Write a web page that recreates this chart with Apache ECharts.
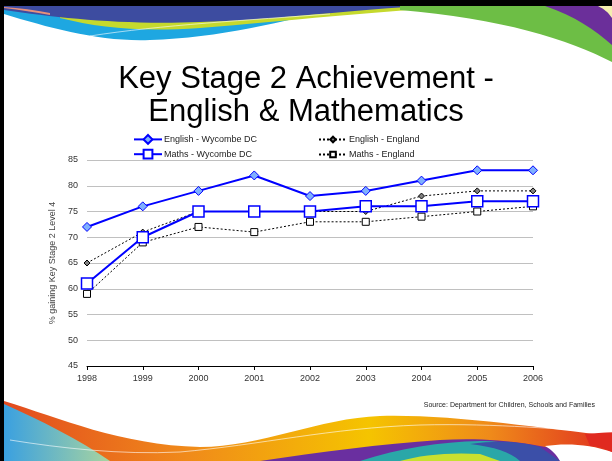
<!DOCTYPE html>
<html>
<head>
<meta charset="utf-8">
<script src="https://cdn.jsdelivr.net/npm/echarts@6/dist/echarts.min.js"></script>
<style>
html,body{margin:0;padding:0;background:#fff;}
#chart{width:612px;height:461px;}
</style>
</head>
<body>
<div id="chart"></div>
<script>
var years = ['1998','1999','2000','2001','2002','2003','2004','2005','2006'];
var englishWycombe = [72, 76, 79, 82, 78, 79, 81, 83, 83];
var mathsWycombe = [61, 70, 75, 75, 75, 76, 76, 77, 77];
var englishEngland = [65, 71, 75, 75, 75, 75, 78, 79, 79];
var mathsEngland = [59, 69, 72, 71, 73, 73, 74, 75, 76];
var seriesNames = ['English - Wycombe DC', 'Maths - Wycombe DC', 'English - England', 'Maths - England'];

var FONT = '"Liberation Sans", Arial, sans-serif';
var chart = echarts.init(document.getElementById('chart'), null, {renderer: 'canvas'});

var shapeCount = 0;
function pathEl(d, style, z) {
  var name = 'swoosh' + (shapeCount++);
  echarts.graphic.registerShape(name, echarts.graphic.extendPath(d, {}));
  return {type: name, z: z || 1, silent: true, style: style};
}

var decor = [
  // top swoosh
  pathEl('M4,6 L4,14 C50,28 100,42 150,40 C220,38 280,22 350,6 Z', {fill:'#1ea7e1'}),
  pathEl('M60,6 L60,18 C100,28 140,32 200,28 C280,22 380,10 480,6 Z', {fill:'#c5d92d'}),
  pathEl('M4,6 L4,10 C60,18 120,25 200,22 C270,20 330,12 420,6 Z', {fill:'#3d4ca0'}),
  pathEl('M4,8 C20,10 35,12 50,15 L50,13 C35,10 20,8 4,7 Z', {fill:'#e8907a'}),
  pathEl('M400,6 L612,6 L612,62 C570,40 500,18 400,10 Z', {fill:'#6dbe45'}),
  pathEl('M545,6 L612,6 L612,45 C595,30 575,16 545,6 Z', {fill:'#6b2f9a'}),
  pathEl('M598,6 L612,6 L612,18 C608,12 604,9 598,6 Z', {fill:'#f4eeb0'}),
  pathEl('M90,36 C160,25 250,20 330,14', {fill:null, stroke:'rgba(255,255,255,0.6)', lineWidth:1}, 2),
  // bottom swoosh
  pathEl('M4,401 C60,418 120,445 200,447 C260,447 320,418 380,416 C450,414 540,428 612,436 L612,461 L4,461 Z',
    {fill:new echarts.graphic.LinearGradient(0,0,1,0,[
      {offset:0,color:'#e24a1f'},{offset:0.3,color:'#f08a1a'},{offset:0.6,color:'#f5c400'},
      {offset:0.8,color:'#ef8a1a'},{offset:1,color:'#e0301f'}])}),
  pathEl('M4,404 C40,420 80,440 110,461 L4,461 Z',
    {fill:new echarts.graphic.LinearGradient(0,0,1,0,[{offset:0,color:'#3aa0e0'},{offset:1,color:'#a8d4a0'}])}),
  pathEl('M260,461 C320,452 380,444 440,440 C490,437 540,442 600,461 Z', {fill:'#6a2fa0'}),
  pathEl('M360,461 C400,448 440,442 480,441 C510,441 530,448 545,461 Z', {fill:'#2aa7a8'}),
  pathEl('M470,444 C500,440 520,442 540,447 L560,461 L520,461 C510,452 495,447 470,444 Z', {fill:'#3b4fa8'}),
  pathEl('M400,461 C420,455 450,452 480,454 L500,461 Z', {fill:'#c8e030'}),
  pathEl('M545,446 C565,443 590,444 612,452 L612,461 L560,461 C556,454 552,450 545,446 Z', {fill:'#ffffff'}),
  pathEl('M585,434 L612,432 L612,452 C605,448 598,446 590,446 Z', {fill:'#e02a20'}),
  pathEl('M10,440 C60,448 120,455 180,452 C260,445 330,428 420,425 C500,423 560,430 612,432', {fill:null, stroke:'rgba(255,255,255,0.6)', lineWidth:1}, 2),
  // frame
  {type:'rect', z:5, shape:{x:0,y:0,width:612,height:6}, style:{fill:'#000'}},
  {type:'rect', z:5, shape:{x:0,y:0,width:4,height:461}, style:{fill:'#000'}},
  // source
  {type:'text', z:5, right:17, top:402, style:{text:'Source: Department for Children, Schools and Families', font:'7px ' + FONT, fill:'#222'}}
];

chart.setOption({
  animation: false,
  backgroundColor: '#ffffff',
  title: {
    text: 'Key Stage 2 Achievement -\nEnglish & Mathematics',
    left: 'center',
    top: 58,
    textStyle: {fontFamily: FONT, fontSize: 31, fontWeight: 'normal', color: '#000', lineHeight: 33}
  },
  legend: [
    {
      data: [seriesNames[0], seriesNames[1]],
      orient: 'vertical', left: 133, top: 134,
      itemWidth: 28, itemHeight: 11, itemGap: 4, padding: 0,
      textStyle: {fontFamily: FONT, fontSize: 9, color: '#222', padding: [0,0,0,-3]}
    },
    {
      data: [seriesNames[2], seriesNames[3]],
      orient: 'vertical', left: 318, top: 135,
      itemWidth: 28, itemHeight: 7, itemGap: 6, padding: 0,
      textStyle: {fontFamily: FONT, fontSize: 9, color: '#222', padding: [0,0,0,-3]}
    }
  ],
  grid: {left: 87, right: 79, top: 160, bottom: 95},
  xAxis: {
    type: 'category', data: years, boundaryGap: false,
    axisLine: {lineStyle: {color: '#000', width: 1}},
    axisTick: {show: true, length: 4, lineStyle: {color: '#000'}},
    axisLabel: {fontFamily: FONT, fontSize: 9, color: '#333', margin: 8}
  },
  yAxis: {
    type: 'value', min: 45, max: 85, interval: 5,
    name: '% gaining Key Stage 2 Level 4', nameLocation: 'middle', nameGap: 26,
    nameTextStyle: {fontFamily: FONT, fontSize: 9, color: '#444'},
    axisLine: {show: false}, axisTick: {show: false},
    axisLabel: {fontFamily: FONT, fontSize: 9, color: '#333', margin: 9},
    splitLine: {lineStyle: {color: '#c0c0c0', width: 1}}
  },
  graphic: decor,
  series: [
    {
      name: seriesNames[2], type: 'line', data: englishEngland, z: 3,
      symbol: 'diamond', symbolSize: 6,
      lineStyle: {color: '#000', width: 1, type: [2, 2]},
      itemStyle: {color: '#808080', borderColor: '#000', borderWidth: 1}
    },
    {
      name: seriesNames[3], type: 'line', data: mathsEngland, z: 3,
      symbol: 'rect', symbolSize: 7,
      lineStyle: {color: '#000', width: 1, type: [2, 2]},
      itemStyle: {color: '#fff', borderColor: '#000', borderWidth: 1}
    },
    {
      name: seriesNames[0], type: 'line', data: englishWycombe, z: 4,
      symbol: 'diamond', symbolSize: 9,
      lineStyle: {color: '#0000ff', width: 2},
      itemStyle: {color: '#7fb0ff', borderColor: '#0000ff', borderWidth: 1}
    },
    {
      name: seriesNames[1], type: 'line', data: mathsWycombe, z: 4,
      symbol: 'rect', symbolSize: 11,
      lineStyle: {color: '#0000ff', width: 2},
      itemStyle: {color: '#fff', borderColor: '#0000ff', borderWidth: 1.5}
    }
  ]
});
</script>
</body>
</html>
